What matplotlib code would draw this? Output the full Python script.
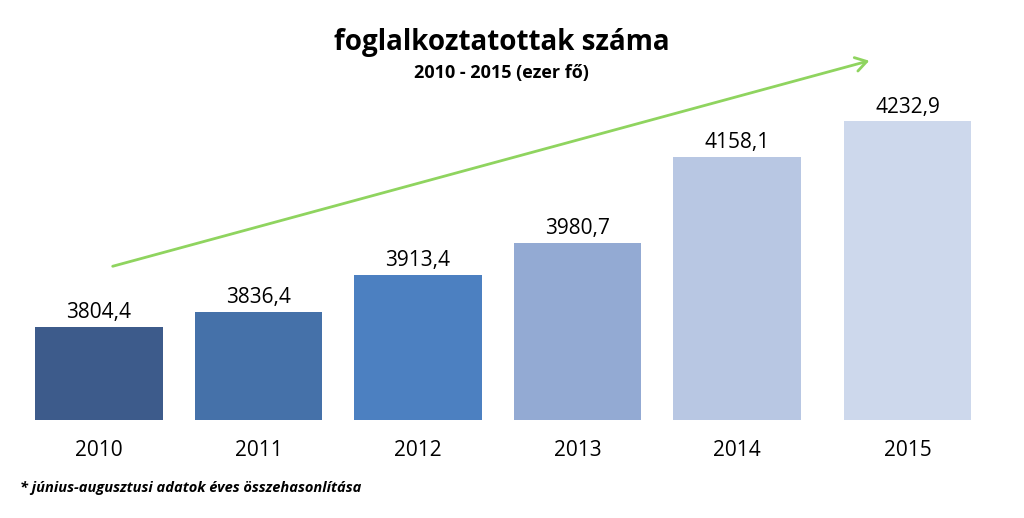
import matplotlib
matplotlib.use("Agg")
import matplotlib.pyplot as plt

years = ["2010", "2011", "2012", "2013", "2014", "2015"]
values = [3804.4, 3836.4, 3913.4, 3980.7, 4158.1, 4232.9]
labels = ["3804,4", "3836,4", "3913,4", "3980,7", "4158,1", "4232,9"]
colors = ["#3d5b8b", "#4571a9", "#4c80c1", "#93aad3", "#b8c7e3", "#cdd8ec"]

plt.rcParams['font.family'] = ['Open Sans', 'DejaVu Sans']
fig = plt.figure(figsize=(10.24, 5.18), dpi=100)
ax = fig.add_axes([0.0, 0.19, 1.0, 0.61])
x = [0, 1, 2, 3, 4, 5.07]
ax.bar(x, values, width=0.8, color=colors, bottom=0)
ax.set_ylim(3612, 4270)
ax.set_xlim(-0.62, 5.8)
for xi, v, l in zip(x, values, labels):
    ax.text(xi, v + 8, l, ha='center', va='bottom', fontsize=15)
ax.axis('off')
for xi, y in zip(x, years):
    fig.text((xi + 0.62) / 6.42, 0.13, y, ha='center', va='center', fontsize=15)

fig.text(0.49, 0.918, "foglalkoztatottak száma", ha='center', va='center', fontsize=20, fontweight='bold')
fig.text(0.49, 0.86, "2010 - 2015 (ezer fő)", ha='center', va='center', fontsize=13, fontweight='bold')
fig.text(0.02, 0.058, "* június-augusztusi adatok éves összehasonlítása", ha='left', va='center',
         fontsize=10.5, fontweight='bold', fontstyle='italic')
fig.patches.append(matplotlib.patches.FancyArrowPatch((110/1024, 1-267/518), (872/1024, 1-60/518),
        transform=fig.transFigure, arrowstyle='->,head_length=8,head_width=5', color='#8fd45f', lw=2))
fig.savefig("out.png", dpi=100, facecolor='white')
